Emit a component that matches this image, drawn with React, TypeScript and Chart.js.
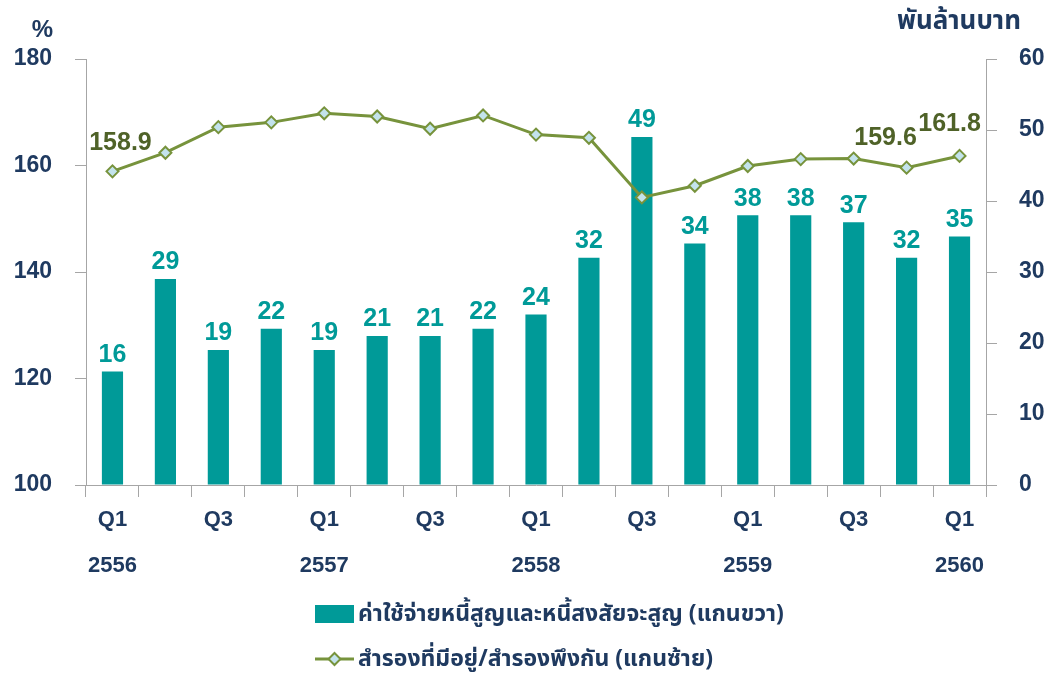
import React, { useEffect, useRef } from "react";
import { Chart, registerables } from "chart.js";

Chart.register(...registerables);

const categories = [
  "Q1/2556", "Q2/2556", "Q3/2556", "Q4/2556",
  "Q1/2557", "Q2/2557", "Q3/2557", "Q4/2557",
  "Q1/2558", "Q2/2558", "Q3/2558", "Q4/2558",
  "Q1/2559", "Q2/2559", "Q3/2559", "Q4/2559",
  "Q1/2560",
];
const quarterTicks = ["Q1", "", "Q3", "", "Q1", "", "Q3", "", "Q1", "", "Q3", "", "Q1", "", "Q3", "", "Q1"];
const yearTicks = ["2556", "", "", "", "2557", "", "", "", "2558", "", "", "", "2559", "", "", "", "2560"];

const badDebtExpense = [16, 29, 19, 22, 19, 21, 21, 22, 24, 32, 49, 34, 38, 38, 37, 32, 35];
const reserveRatio = [158.9, 162.4, 167.2, 168.1, 169.8, 169.2, 166.9, 169.4, 165.8, 165.2, 154.0, 156.2, 159.9, 161.2, 161.3, 159.6, 161.8];
const lineLabelIndices = [0, 15, 16];

const leftTicks = [100, 120, 140, 160, 180];
const rightTicks = [0, 10, 20, 30, 40, 50, 60];

const barLabel = "ค่าใช้จ่ายหนี้สูญและหนี้สงสัยจะสูญ (แกนขวา)";
const lineLabel = "สำรองที่มีอยู่/สำรองพึงกัน (แกนซ้าย)";
const leftUnit = "%";
const rightUnit = "พันล้านบาท";

const NAVY = "#1f3a60";
const TEAL = "#009a98";
const OLIVE = "#77933c";
const OLIVE_DARK = "#4f6228";
const GRAY = "#a6a6a6";
const FONT = "'Liberation Sans', Arial, sans-serif";
const THAI_FONT = "Tahoma, 'Noto Sans Thai', 'Noto Sans', 'DejaVu Sans', sans-serif";

const labelOffsets: Record<number, [number, number]> = {
  0: [8, -28],
  15: [-21, -30],
  16: [-10, -32],
};

const overlayPlugin = {
  id: "overlay",
  afterDatasetsDraw(chart: any) {
    const ctx = chart.ctx;
    const area = chart.chartArea;
    ctx.save();
    // bar value labels
    const barMeta = chart.getDatasetMeta(0);
    ctx.font = `bold 25px ${FONT}`;
    ctx.fillStyle = TEAL;
    ctx.textAlign = "center";
    ctx.textBaseline = "bottom";
    barMeta.data.forEach((el: any, i: number) => {
      ctx.fillText(String(badDebtExpense[i]), el.x, el.y - 4);
    });
    // line labels
    const lineMeta = chart.getDatasetMeta(1);
    ctx.fillStyle = OLIVE_DARK;
    ctx.textBaseline = "middle";
    lineLabelIndices.forEach((i) => {
      const el = lineMeta.data[i];
      const off = labelOffsets[i] || [0, -28];
      ctx.fillText(reserveRatio[i].toFixed(1), el.x + off[0], el.y + off[1]);
    });
    // axis units
    ctx.fillStyle = NAVY;
    ctx.font = `bold 24px ${FONT}`;
    ctx.textAlign = "right";
    ctx.fillText(leftUnit, area.left - 33, 30);
    ctx.font = `bold 26px ${THAI_FONT}`;
    ctx.textAlign = "left";
    ctx.fillText(rightUnit, area.right - 89, 24);
    ctx.restore();
  },
};

export default function App() {
  const ref = useRef<HTMLCanvasElement | null>(null);

  useEffect(() => {
    if (!ref.current) return;
    const chart = new Chart(ref.current, {
      type: "bar",
      data: {
        labels: categories,
        datasets: [
          {
            type: "bar",
            label: barLabel,
            data: badDebtExpense,
            yAxisID: "yR",
            backgroundColor: TEAL,
            barPercentage: 0.4,
            categoryPercentage: 1.0,
            order: 1,
          },
          {
            type: "line",
            label: lineLabel,
            data: reserveRatio,
            yAxisID: "yL",
            borderColor: OLIVE,
            borderWidth: 3,
            pointStyle: "rectRot",
            pointRadius: 6,
            pointBorderWidth: 2,
            pointBackgroundColor: "#c3e3ec",
            pointBorderColor: OLIVE,
            tension: 0,
            order: 0,
          } as any,
        ],
      },
      options: {
        responsive: false,
        animation: false,
        layout: { padding: { top: 59, bottom: 88, left: 0, right: 0 } },
        plugins: {
          legend: { display: false },
          tooltip: { enabled: false },
        },
        scales: {
          x: {
            offset: true,
            grid: {
              offset: true,
              drawOnChartArea: false,
              drawTicks: true,
              tickLength: 12,
              color: GRAY,
            },
            border: { display: true, color: GRAY, width: 1 },
            afterFit: (s: any) => { s.height = 100; },
            ticks: {
              autoSkip: false,
              maxRotation: 0,
              padding: 0,
              color: NAVY,
              font: { family: FONT, size: 22, weight: "bold", lineHeight: 2.1 },
              callback: (_v: any, i: number) => [quarterTicks[i], yearTicks[i]],
            },
          },
          yL: {
            type: "linear",
            position: "left",
            min: 100,
            max: 180,
            afterBuildTicks: (s: any) => { s.ticks = leftTicks.map((v) => ({ value: v })); },
            afterFit: (s: any) => { s.width = 86; },
            grid: { drawOnChartArea: false, drawTicks: true, tickLength: 11, color: GRAY },
            border: { display: true, color: GRAY, width: 1 },
            ticks: {
              padding: 23,
              color: NAVY,
              font: { family: FONT, size: 23, weight: "bold" },
            },
          },
          yR: {
            type: "linear",
            position: "right",
            min: 0,
            max: 60,
            afterBuildTicks: (s: any) => { s.ticks = rightTicks.map((v) => ({ value: v })); },
            afterFit: (s: any) => { s.width = 65; },
            grid: { drawOnChartArea: false, drawTicks: true, tickLength: 11, color: GRAY },
            border: { display: true, color: GRAY, width: 1 },
            ticks: {
              padding: 22,
              color: NAVY,
              font: { family: FONT, size: 23, weight: "bold" },
            },
          },
        } as any,
      },
      plugins: [overlayPlugin],
    });
    return () => chart.destroy();
  }, []);

  const legendText: React.CSSProperties = {
    font: `bold 23px ${THAI_FONT}`,
    color: NAVY,
    whiteSpace: "nowrap",
    lineHeight: "26px",
  };

  return (
    <div style={{ position: "absolute", left: 0, top: 0, width: 1051, height: 673, background: "#fff" }}>
      <canvas ref={ref} width={1051} height={673} style={{ display: "block" }} />
      <div style={{ position: "absolute", left: 315, top: 601, display: "flex", alignItems: "center" }}>
        <div style={{ width: 39, height: 18, background: TEAL, marginRight: 4 }} />
        <span style={legendText}>{barLabel}</span>
      </div>
      <div style={{ position: "absolute", left: 315, top: 646, display: "flex", alignItems: "center" }}>
        <svg width={39} height={24} style={{ marginRight: 4 }}>
          <line x1={0} y1={12} x2={39} y2={12} stroke={OLIVE} strokeWidth={3} />
          <polygon points="19.5,6 25.5,12 19.5,18 13.5,12" fill="#c3e3ec" stroke={OLIVE} strokeWidth={2} />
        </svg>
        <span style={legendText}>{lineLabel}</span>
      </div>
    </div>
  );
}
